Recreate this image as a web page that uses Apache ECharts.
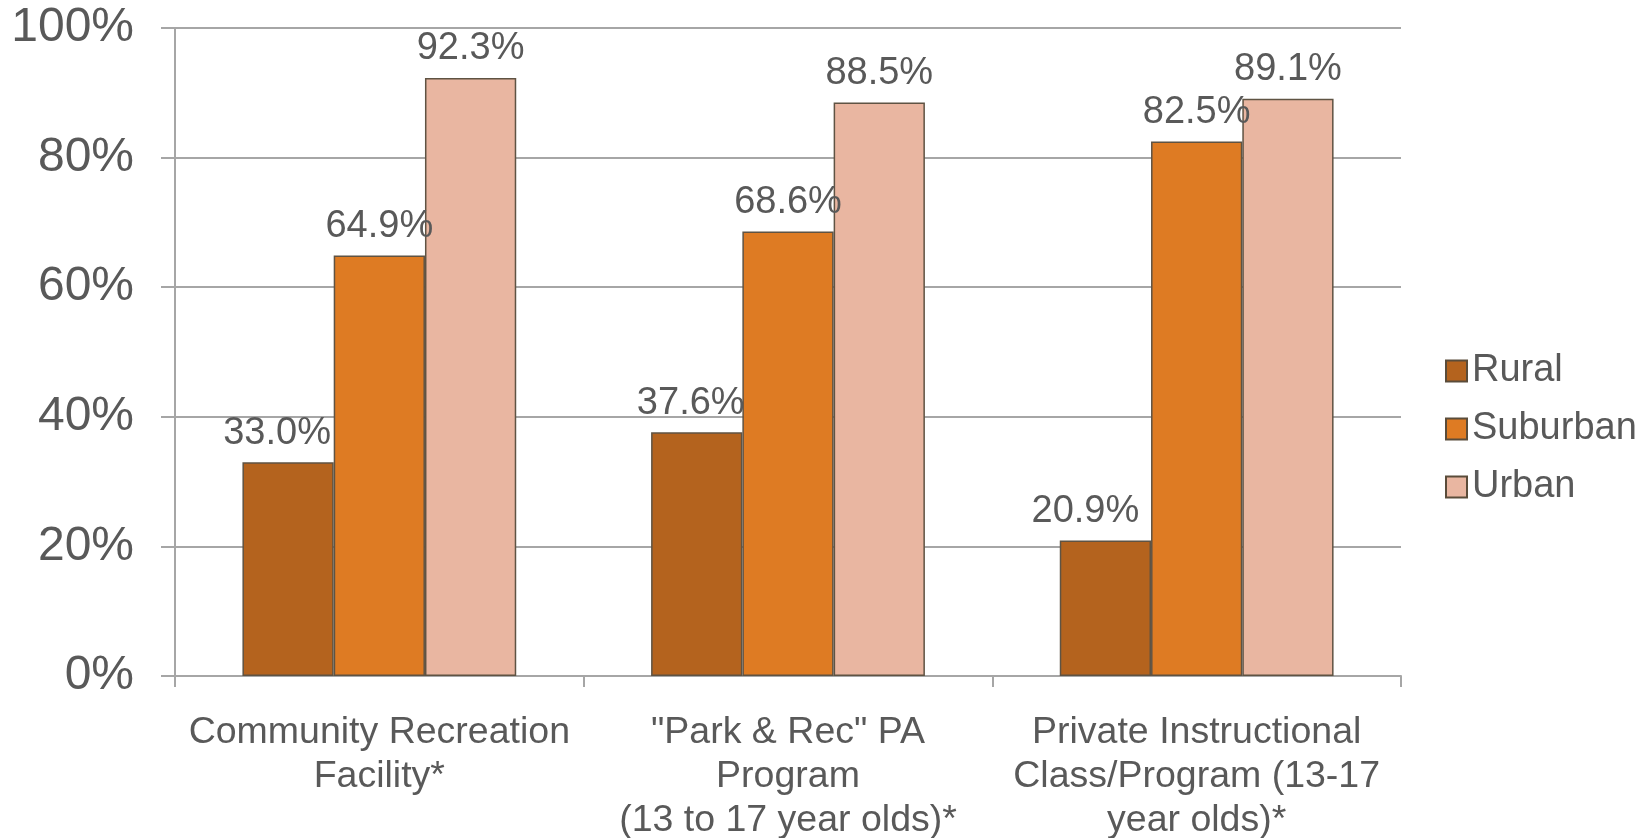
<!DOCTYPE html>
<html>
<head>
<meta charset="utf-8">
<script src="https://cdn.jsdelivr.net/npm/echarts@6/dist/echarts.min.js"></script>
<style>
  html, body { margin: 0; padding: 0; background: #fff; }
  #chart { width: 1649px; height: 838px; }
</style>
</head>
<body>
<div id="chart"></div>
<script>
var categories = [
  "Community Recreation\nFacility*",
  "\"Park & Rec\" PA\nProgram\n(13 to 17 year olds)*",
  "Private Instructional\nClass/Program (13-17\nyear olds)*"
];
var rural = [33.0, 37.6, 20.9];
var suburban = [64.9, 68.6, 82.5];
var urban = [92.3, 88.5, 89.1];

// rural labels were nudged left in the original
var ruralLabelShift = [-11, -6, -20];

var font = "'Liberation Sans', Arial, sans-serif";
var textColor = "#595959";
var gridColor = "#A6A6A6";

function barSeries(name, data, color, shifts) {
  var items = data.map(function (v, i) {
    var item = { value: v };
    if (shifts) item.label = { offset: [shifts[i], 0] };
    return item;
  });
  return {
    name: name,
    type: "bar",
    data: items,
    barGap: "0%",
    barCategoryGap: "33%",
    itemStyle: {
      color: color,
      borderColor: "#5F5343",
      borderWidth: 1.5
    },
    label: {
      show: true,
      position: "top",
      distance: 10,
      formatter: function (p) {
        return p.value.toFixed(1) + "%";
      },
      color: textColor,
      fontSize: 38,
      fontFamily: font
    }
  };
}

var chart = echarts.init(document.getElementById("chart"));
var option = {
  animation: false,
  textStyle: { fontFamily: font },
  grid: {
    left: 175,
    right: 248,
    top: 28,
    bottom: 162,
    containLabel: false,
    outerBoundsMode: "none"
  },
  legend: {
    orient: "vertical",
    left: 1440,
    top: 346,
    itemWidth: 21,
    itemHeight: 21,
    itemGap: 18,
    icon: "rect",
    itemStyle: { borderColor: "#5A4C3A", borderWidth: 2 },
    textStyle: {
      color: textColor,
      fontSize: 38,
      lineHeight: 40,
      fontFamily: font
    },
    data: ["Rural", "Suburban", "Urban"]
  },
  xAxis: {
    type: "category",
    data: categories,
    axisLine: { show: true, lineStyle: { color: gridColor, width: 2 } },
    axisTick: { show: true, length: 11, lineStyle: { color: gridColor, width: 2 } },
    axisLabel: {
      color: textColor,
      fontSize: 37.5,
      lineHeight: 44,
      margin: 35,
      interval: 0,
      fontFamily: font
    }
  },
  yAxis: {
    type: "value",
    min: 0,
    max: 100,
    interval: 20,
    axisLine: { show: true, lineStyle: { color: gridColor, width: 2 } },
    axisTick: { show: true, length: 14, lineStyle: { color: gridColor, width: 2 } },
    splitLine: { show: true, lineStyle: { color: gridColor, width: 2 } },
    axisLabel: {
      formatter: "{value}%",
      color: textColor,
      fontSize: 48,
      margin: 41,
      padding: [6, 0, 0, 0],
      fontFamily: font
    }
  },
  series: [
    barSeries("Rural", rural, "#B4631E", ruralLabelShift),
    barSeries("Suburban", suburban, "#DE7B23"),
    barSeries("Urban", urban, "#E9B6A1")
  ]
};
chart.setOption(option);
window.addEventListener("resize", function () {
  chart.resize();
});
</script>
</body>
</html>
